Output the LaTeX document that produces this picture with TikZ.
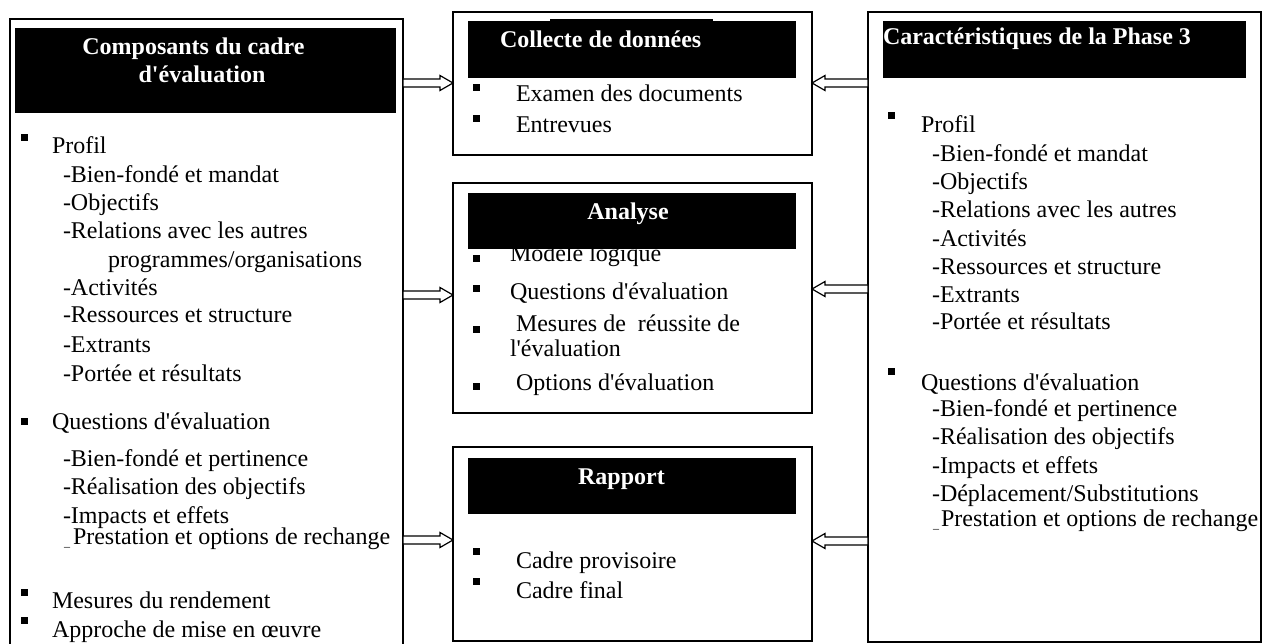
\documentclass[tikz,border=0pt]{standalone}
\usepackage{fontspec}
\setmainfont{Liberation Serif}
\usetikzlibrary{calc}
\newcommand\ap{\textquotesingle}
\tikzset{
 frame/.style={draw=black, line width=1.5pt, fill=white, inner sep=0pt, outer sep=0pt},
 hdr/.style={fill=black, draw=none, inner sep=0pt, outer sep=0pt},
 txt/.style={anchor=base west, inner sep=0pt, outer sep=0pt, font=\fontsize{24}{28}\selectfont},
 htxt/.style={anchor=base, inner sep=0pt, outer sep=0pt, font=\fontsize{24}{28}\selectfont\bfseries, text=white},
 hltxt/.style={htxt, anchor=base west},
 usc/.style={anchor=base west, inner sep=0pt, outer sep=0pt, font=\fontsize{12}{14}\selectfont},
 arr/.style={draw=black, line width=1.2pt, fill=white, line join=miter},
}
\newcommand\bul[2]{\fill (#1,#2) rectangle ++(7,7);}
\newcommand\rarr[2]{\draw[arr] let \p1=(#1), \p2=(#2) in (\x1,\y1+4pt) -- (\x2-13pt,\y1+4pt) -- (\x2-13pt,\y1+7.5pt) -- (\x2,\y1) -- (\x2-13pt,\y1-7.5pt) -- (\x2-13pt,\y1-4pt) -- (\x1,\y1-4pt) -- cycle;}
\newcommand\larr[2]{\draw[arr] let \p1=(#1), \p2=(#2) in (\x1,\y1+4pt) -- (\x2+13pt,\y1+4pt) -- (\x2+13pt,\y1+7.5pt) -- (\x2,\y1) -- (\x2+13pt,\y1-7.5pt) -- (\x2+13pt,\y1-4pt) -- (\x1,\y1-4pt) -- cycle;}
\begin{document}
\begin{tikzpicture}[x=1pt,y=-1pt]
\clip (0,0) rectangle (1262,644);
\fill[white] (0,0) rectangle (1262,644);

% ---------- boxes ----------
\node[frame, minimum width=393pt, minimum height=641pt] (L) at (206.5,339.5) {};
\node[frame, minimum width=359pt, minimum height=143pt] (C1) at (632.5,83.5) {};
\node[frame, minimum width=359pt, minimum height=230pt] (C2) at (632.5,298) {};
\node[frame, minimum width=359pt, minimum height=194pt] (C3) at (632.5,544) {};
\node[frame, minimum width=393pt, minimum height=630pt] (R) at (1064.5,327) {};

% ---------- left box ----------
\node[hdr, minimum width=381pt, minimum height=85pt] (HL) at (205.5,70.5) {};
\node[htxt] (hl1) at (193.5,55) {Composants du cadre};
\node[htxt] (hl2) at (202,83) {d\ap évaluation};

\bul{21}{134}
\node[txt] (l1) at (52,154) {Profil};
\node[txt] (l2) at (63,183) {-Bien-fondé et mandat};
\node[txt] (l3) at (63,211) {-Objectifs};
\node[txt] (l4) at (63,239) {-Relations avec les autres};
\node[txt] (l5) at (108,268) {programmes/organisations};
\node[txt] (l6) at (63,296) {-Activités};
\node[txt] (l7) at (63,323) {-Ressources et structure};
\node[txt] (l8) at (63,353) {-Extrants};
\node[txt] (l9) at (63,382) {-Portée et résultats};
\bul{21}{418}
\node[txt] (l10) at (52,430) {Questions d\ap évaluation};
\node[txt] (l11) at (63,467) {-Bien-fondé et pertinence};
\node[txt] (l12) at (63,494) {-Réalisation des objectifs};
\node[txt] (l13) at (63,523) {-Impacts et effets};
\node[usc] (l14u) at (64,546) {\_};
\node[txt] (l14) at (73,544) {Prestation et options de rechange};
\bul{21}{589}
\node[txt] (l15) at (52,608) {Mesures du rendement};
\bul{21}{617}
\node[txt] (l16) at (52,637) {Approche de mise en œuvre};

% ---------- middle box 1 ----------
\node[hdr, minimum width=328pt, minimum height=57pt] (H1) at (632,49.5) {};
\fill (550,19) rectangle (713,22);
\node[hltxt] (h1) at (500,48) {Collecte de données};
\bul{473}{84}
\node[txt] (m1) at (516,102) {Examen des documents};
\bul{473}{115}
\node[txt] (m2) at (516,133) {Entrevues};

% ---------- middle box 2 ----------
\node[txt] (m3) at (510,262) {Modèle logique};
\node[hdr, minimum width=328pt, minimum height=56pt] (H2) at (632,221) {};
\node[htxt] (h2) at (628,220) {Analyse};
\bul{473}{255}
\bul{473}{285}
\node[txt] (m4) at (510,300) {Questions d\ap évaluation};
\bul{473}{326}
\node[txt] (m5) at (516,332) {Mesures de \ réussite de};
\node[txt] (m6) at (510,357) {l\ap évaluation};
\bul{473}{383}
\node[txt] (m7) at (516,391) {Options d\ap évaluation};

% ---------- middle box 3 ----------
\node[hdr, minimum width=328pt, minimum height=56pt] (H3) at (632,486) {};
\node[htxt] (h3) at (621.5,484) {Rapport};
\bul{473}{548}
\node[txt] (m8) at (516,568) {Cadre provisoire};
\bul{473}{578}
\node[txt] (m9) at (516,598) {Cadre final};

% ---------- right box ----------
\node[hdr, minimum width=363pt, minimum height=57pt] (HR) at (1064.5,49.5) {};
\node[hltxt] (hr) at (883,45) {Caractéristiques de la Phase 3};
\bul{888}{112}
\node[txt] (r1) at (921,133) {Profil};
\node[txt] (r2) at (932,162) {-Bien-fondé et mandat};
\node[txt] (r3) at (932,190) {-Objectifs};
\node[txt] (r4) at (932,218) {-Relations avec les autres};
\node[txt] (r5) at (932,247) {-Activités};
\node[txt] (r6) at (932,275) {-Ressources et structure};
\node[txt] (r7) at (932,303) {-Extrants};
\node[txt] (r8) at (932,330) {-Portée et résultats};
\bul{888}{368}
\node[txt] (r9) at (921,391) {Questions d\ap évaluation};
\node[txt] (r10) at (932,417) {-Bien-fondé et pertinence};
\node[txt] (r11) at (932,445) {-Réalisation des objectifs};
\node[txt] (r12) at (932,473) {-Impacts et effets};
\node[txt] (r13) at (932,501) {-Déplacement/Substitutions};
\node[usc] (r14u) at (933,528) {\_};
\node[txt] (r14) at (941,526) {Prestation et options de rechange};

% ---------- arrows ----------
\coordinate (ya) at (0,83);
\coordinate (yb) at (0,295);
\coordinate (yc) at (0,540);
\coordinate (yd) at (0,83);
\coordinate (ye) at (0,289);
\coordinate (yf) at (0,541);
\rarr{L.east |- ya}{C1.west |- ya}
\rarr{L.east |- yb}{C2.west |- yb}
\rarr{L.east |- yc}{C3.west |- yc}
\larr{R.west |- yd}{C1.east |- yd}
\larr{R.west |- ye}{C2.east |- ye}
\larr{R.west |- yf}{C3.east |- yf}
\end{tikzpicture}
\end{document}
